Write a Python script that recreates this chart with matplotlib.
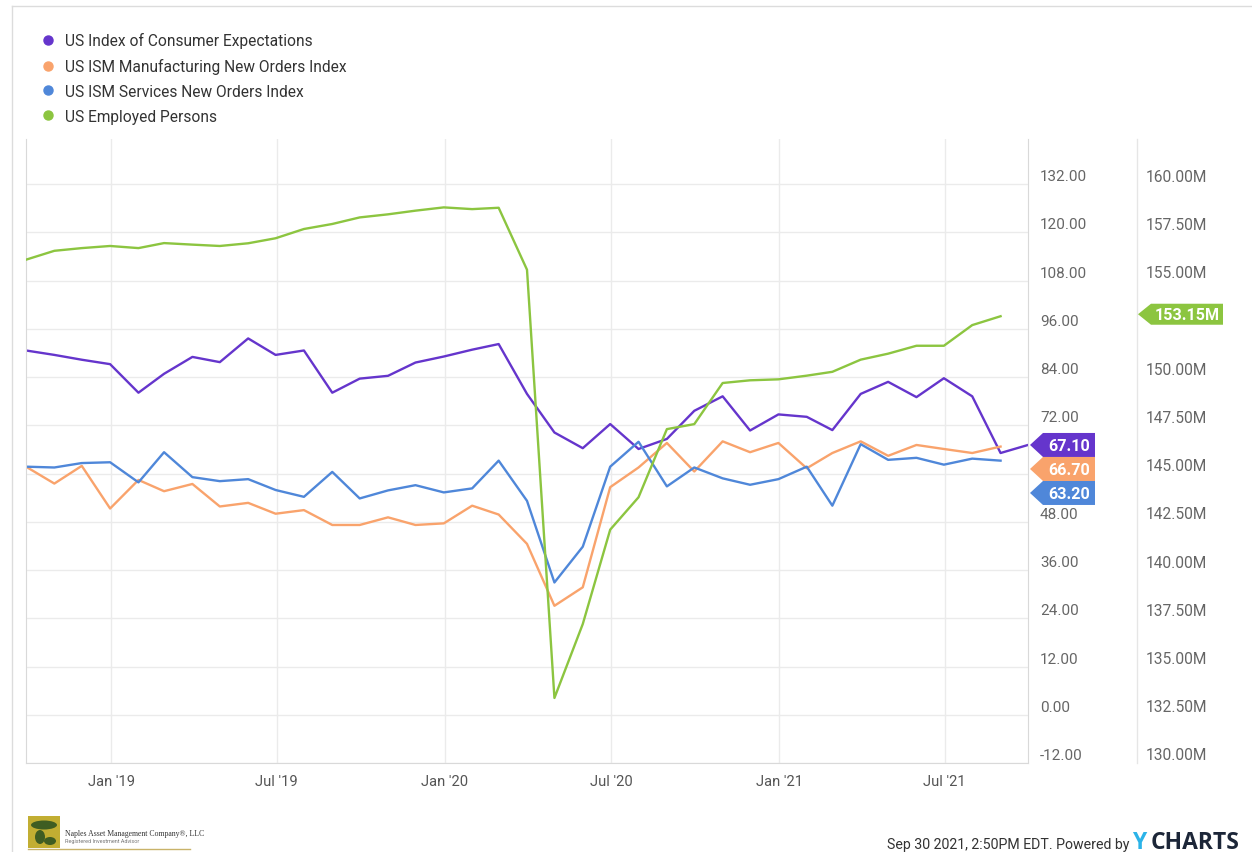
import matplotlib
matplotlib.use('Agg')
from matplotlib import pyplot as plt
from matplotlib.patches import Polygon, Rectangle, Ellipse
from matplotlib.lines import Line2D
from matplotlib import transforms as mtransforms
import numpy as np
import pandas as pd

plt.rcParams['font.family'] = ['Roboto', 'DejaVu Sans']

# monthly data, month-end dates (Sep 2018 .. Sep 2021)
dates = pd.date_range('2018-09-30', periods=37, freq='ME')

consumer_exp = [90.6, 89.5, 88.3, 87.2, 80.1, 84.8, 89.0, 87.7, 93.6, 89.5,
                90.6, 80.1, 83.6, 84.3, 87.6, 89.1, 90.8, 92.2, 79.8, 70.2,
                66.3, 72.3, 66.1, 68.6, 75.6, 79.2, 70.7, 74.7, 74.1, 70.8,
                79.8, 82.8, 79.0, 83.7, 79.2, 65.1, 67.1]
ism_mfg_orders = [61.7, 57.5, 61.9, 51.3, 58.4, 55.6, 57.4, 51.8, 52.7, 50.0,
                  50.9, 47.2, 47.2, 49.1, 47.2, 47.6, 52.0, 49.8, 42.5, 27.1,
                  31.7, 56.6, 61.5, 67.6, 60.5, 68.0, 65.3, 67.6, 61.3, 65.1,
                  68.0, 64.4, 67.1, 66.1, 65.1, 66.7]
ism_svc_orders = [61.7, 61.5, 62.6, 62.8, 57.8, 65.3, 59.1, 58.1, 58.6, 55.9,
                  54.2, 60.4, 53.8, 55.8, 57.1, 55.3, 56.3, 63.2, 53.2, 32.9,
                  41.8, 61.7, 67.9, 56.8, 61.5, 58.8, 57.2, 58.6, 61.7, 52.0,
                  67.3, 63.4, 63.9, 62.2, 63.7, 63.2]
employed_m = [156.08, 156.54, 156.68, 156.79, 156.68, 156.94, 156.86, 156.79,
              156.93, 157.19, 157.67, 157.93, 158.27, 158.43, 158.62, 158.79,
              158.70, 158.77, 155.56, 133.37, 137.20, 142.09, 143.77, 147.30,
              147.56, 149.69, 149.83, 149.88, 150.07, 150.27, 150.90, 151.21,
              151.62, 151.62, 152.69, 153.15]

names = ['US Index of Consumer Expectations', 'US ISM Manufacturing New Orders Index',
         'US ISM Services New Orders Index', 'US Employed Persons']
colors = ['#6535cc', '#f9a36c', '#4f87d9', '#8cc540']

xtick_dates = pd.to_datetime(['2019-01-01', '2019-07-01', '2020-01-01',
                              '2020-07-01', '2021-01-01', '2021-07-01'])
xtick_labels = ["Jan '19", "Jul '19", "Jan '20", "Jul '20", "Jan '21", "Jul '21"]
left_ticks = np.arange(-12, 133, 12)
right_ticks = np.arange(130, 160.1, 2.5)

W, H = 1252, 853
fig = plt.figure(figsize=(W / 100, H / 100), dpi=100)


def fx(px):
    return px / W


def fy(py):
    return 1 - py / H


x_l, x_r, y_t, y_b = 26, 1028, 140, 764
ax = fig.add_axes([fx(x_l), fy(y_b), (x_r - x_l) / W, (y_b - y_t) / H])
ax2 = ax.twinx()

ylo, yhi = -12, 143.2
ax.set_ylim(ylo, yhi)
to_right = lambda v: 130 + (v + 12) * 30 / 144
ax2.set_ylim(to_right(ylo), to_right(yhi))
ax.set_xlim(dates[0], dates[-1])

ax.plot(dates, consumer_exp, color=colors[0], lw=1.7)
ax.plot(dates[:36], ism_mfg_orders, color=colors[1], lw=1.7)
ax.plot(dates[:36], ism_svc_orders, color=colors[2], lw=1.7)
ax2.plot(dates[:36], employed_m, color=colors[3], lw=1.7)

ax.set_yticks(left_ticks)
ax.set_xticks(xtick_dates)
ax.set_xticklabels(xtick_labels)
ax.grid(True, color='#ebebeb', lw=1)
ax.set_axisbelow(True)
ax.tick_params(axis='y', left=False, right=False, labelleft=False, labelright=False)
ax.tick_params(axis='x', length=0, pad=8, labelcolor='#555555', labelsize=10.6)
ax2.set_yticks([])
for s in ax2.spines.values():
    s.set_visible(False)
ax.spines['top'].set_visible(False)
for k in ['left', 'right', 'bottom']:
    ax.spines[k].set_color('#d9d9d9')


def tag(x0, yc, w, h, color, text):
    pts = [(x0, yc), (x0 + 13, yc + h / 2), (x0 + w, yc + h / 2),
           (x0 + w, yc - h / 2), (x0 + 13, yc - h / 2)]
    fig.add_artist(Polygon(pts, closed=True, transform=mtransforms.IdentityTransform(),
                           fc=color, ec='none', zorder=5))
    fig.text((x0 + 13 + x0 + w) / 2 / W, (yc - 0.5) / H, text, ha='center', va='center',
             color='white', fontweight='bold', fontsize=11.6, zorder=6)
    return yc - h / 2, yc + h / 2


# last-value tags, pushed down so they don't overlap
last = [(consumer_exp[-1], colors[0]), (ism_mfg_orders[-1], colors[1]),
        (ism_svc_orders[-1], colors[2])]
last.sort(key=lambda t: -t[0])
prev = None
left_spans = []
for val, c in last:
    xd, yd = ax.get_yaxis_transform().transform((1, val))
    if prev is not None and yd > prev - 24:
        yd = prev - 24
    left_spans.append(tag(xd + 2, yd, 65, 24, c, f'{val:.2f}'))
    prev = yd

xd, yd = ax2.get_yaxis_transform().transform((1, employed_m[-1]))
right_spans = [tag(xd + 110, yd + 2, 85, 21, colors[3], f'{employed_m[-1]:.2f}M')]


def hidden(y, spans):
    return any(lo - 6 < y < hi + 6 for lo, hi in spans)


# axis value labels (skipped where a tag covers them)
for v in left_ticks:
    yl = ax.get_yaxis_transform().transform((1, v))[1] + 8
    if hidden(yl, left_spans):
        continue
    ax.annotate(f'{v:.2f}', xy=(1, v), xycoords=ax.get_yaxis_transform(),
                xytext=(12, 8), textcoords='offset pixels', ha='left', va='center',
                color='#666666', fontsize=11, annotation_clip=False)
for r in right_ticks:
    yl = ax2.get_yaxis_transform().transform((1, r))[1] + 8
    if hidden(yl, right_spans):
        continue
    ax2.annotate(f'{r:.2f}M', xy=(1, r), xycoords=ax2.get_yaxis_transform(),
                 xytext=(118, 8), textcoords='offset pixels', ha='left', va='center',
                 color='#666666', fontsize=11.2, annotation_clip=False)

# separator between the two value axes
fig.add_artist(Line2D([fx(1137)] * 2, [fy(y_t), fy(y_b)], color='#e6e6e6', lw=1))

# legend
handles = [Line2D([], [], marker='o', ls='none', color=c, markersize=6.5) for c in colors]
fig.legend(handles, names, loc='upper left', bbox_to_anchor=(fx(40.2), fy(33)),
           frameon=False, fontsize=11.2, handlelength=1.0, handletextpad=0.6,
           labelspacing=0.64, borderpad=0, borderaxespad=0, labelcolor='#333333')

# card border
fig.add_artist(Line2D([fx(12), 1], [fy(7), fy(7)], color='#dcdcdc', lw=1))
fig.add_artist(Line2D([fx(12), fx(12)], [fy(7), 0], color='#dcdcdc', lw=1))

# footer
fig.text(fx(887), fy(845), 'Sep 30 2021, 2:50PM EDT. Powered by', ha='left', va='center',
         fontsize=10.2, color='#333333')
fig.text(fx(1132), fy(843), 'Y', ha='left', va='center', fontsize=16.5,
         fontweight='bold', color='#2bb3e8', family=['Open Sans', 'DejaVu Sans'])
fig.text(fx(1151), fy(843), 'CHARTS', ha='left', va='center', fontsize=16.5,
         fontweight='bold', color='#1c2638', family=['Open Sans', 'DejaVu Sans'])

# logo block
fig.add_artist(Rectangle((fx(28), fy(849)), 32 / W, 32 / H, transform=fig.transFigure,
                         fc='#c2ae32', ec='none'))
for ex, ey, ew, eh in [(44, 826, 26, 9), (40, 838, 10, 14), (50, 842, 12, 8)]:
    fig.add_artist(Ellipse((fx(ex), fy(ey)), ew / W, eh / H, transform=fig.transFigure,
                           fc='#3f5d22', ec='none'))
fig.text(fx(65), fy(834), 'Naples Asset Management Company\u00ae, LLC', ha='left',
         va='center', fontsize=5.6, color='#333333', family=['Liberation Serif'])
fig.text(fx(65), fy(842), 'Registered Investment Advisor', ha='left', va='center',
         fontsize=4.0, color='#777777')
fig.add_artist(Line2D([fx(28), fx(190)], [fy(850), fy(850)], color='#c9b36a', lw=1))

fig.savefig('out.png', dpi=100)
